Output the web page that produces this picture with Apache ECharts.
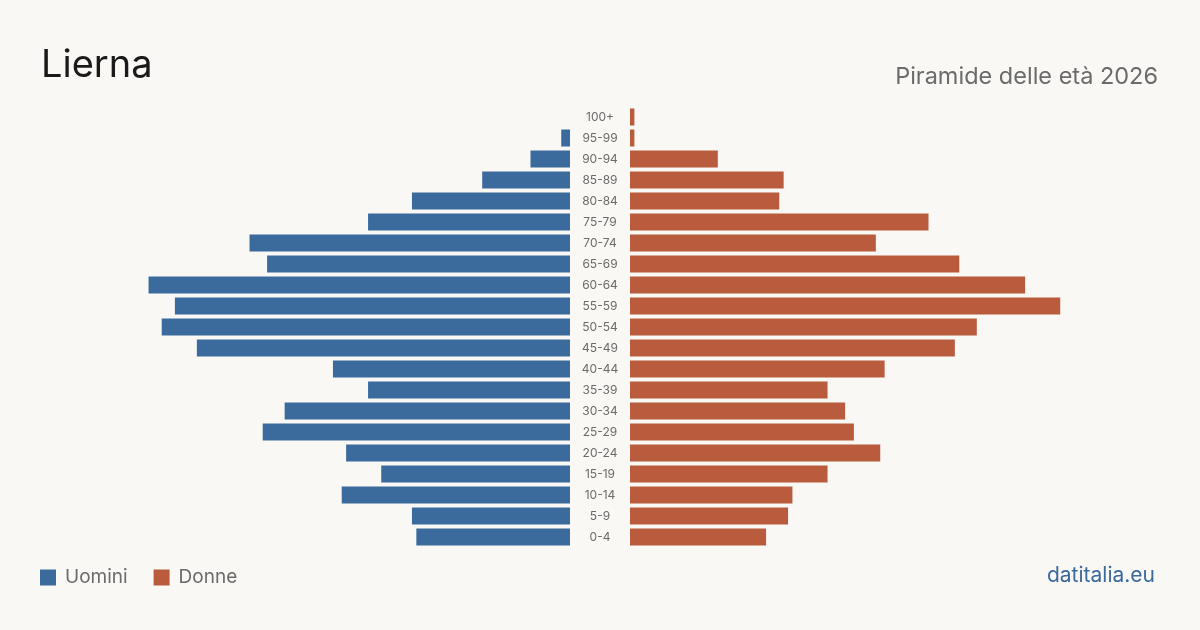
<!DOCTYPE html>
<html>
<head>
<meta charset="utf-8">
<title>Lierna - Piramide delle età 2026</title>
<script src="https://cdn.jsdelivr.net/npm/echarts@6/dist/echarts.min.js"></script>
<style>
  html, body { margin: 0; padding: 0; background: #f9f8f4; }
  #chart { width: 1200px; height: 630px; }
</style>
</head>
<body>
<div id="chart"></div>
<script>
// classi di età, dal basso verso l'alto
const classi = ['0-4', '5-9', '10-14', '15-19', '20-24', '25-29', '30-34', '35-39', '40-44', '45-49',
  '50-54', '55-59', '60-64', '65-69', '70-74', '75-79', '80-84', '85-89', '90-94', '95-99', '100+'];
// residenti per classe
const uomini = [35, 36, 52, 43, 51, 70, 65, 46, 54, 85, 93, 90, 96, 69, 73, 46, 36, 20, 9, 2, 0];
const donne = [31, 36, 37, 45, 57, 51, 49, 45, 58, 74, 79, 98, 90, 75, 56, 68, 34, 35, 20, 1, 1];

const BLU = '#3b6b9d';
const ROSSO = '#b95c3d';
const FONT = 'Inter, "Noto Sans", sans-serif';
const maxVal = 100;

const chart = echarts.init(document.getElementById('chart'));

const option = {
  backgroundColor: '#f9f8f4',
  animation: false,
  textStyle: { fontFamily: FONT },
  title: [
    {
      text: 'Lierna',
      left: 41, top: 47, padding: 0,
      textStyle: { fontSize: 38, fontWeight: 'normal', color: '#1a1a1a', fontFamily: FONT }
    },
    {
      text: 'Piramide delle età 2026',
      right: 42, top: 65, padding: 0,
      textStyle: { fontSize: 23.5, fontWeight: 'normal', color: '#6b6b6b', fontFamily: FONT }
    },
    {
      text: 'datitalia.eu',
      right: 45, top: 565, padding: 0,
      textStyle: { fontSize: 21, fontWeight: 'normal', color: BLU, fontFamily: FONT }
    }
  ],
  legend: {
    left: 40, top: 568, padding: 0,
    icon: 'rect',
    itemWidth: 16, itemHeight: 16,
    itemGap: 26,
    textStyle: { fontSize: 19, color: '#6b6b6b', fontFamily: FONT, padding: [0, 0, 0, 4] },
    data: ['Uomini', 'Donne']
  },
  grid: [
    { left: 131, width: 439, top: 106.5, height: 441 },
    { left: 630, width: 439, top: 106.5, height: 441 }
  ],
  xAxis: [
    { gridIndex: 0, type: 'value', min: 0, max: maxVal, inverse: true, show: false },
    { gridIndex: 1, type: 'value', min: 0, max: maxVal, show: false }
  ],
  yAxis: [
    {
      gridIndex: 0, type: 'category', data: classi, position: 'right',
      axisLine: { show: false }, axisTick: { show: false }, axisLabel: { show: false }
    },
    {
      gridIndex: 1, type: 'category', data: classi, position: 'left',
      axisLine: { show: false }, axisTick: { show: false },
      axisLabel: { margin: 30, align: 'center', fontSize: 12, color: '#6b6b6b', fontFamily: FONT }
    }
  ],
  series: [
    {
      name: 'Uomini', type: 'bar', xAxisIndex: 0, yAxisIndex: 0,
      data: uomini, barWidth: 17, itemStyle: { color: BLU }
    },
    {
      name: 'Donne', type: 'bar', xAxisIndex: 1, yAxisIndex: 1,
      data: donne, barWidth: 17, itemStyle: { color: ROSSO }
    }
  ]
};

chart.setOption(option);
</script>
</body>
</html>
